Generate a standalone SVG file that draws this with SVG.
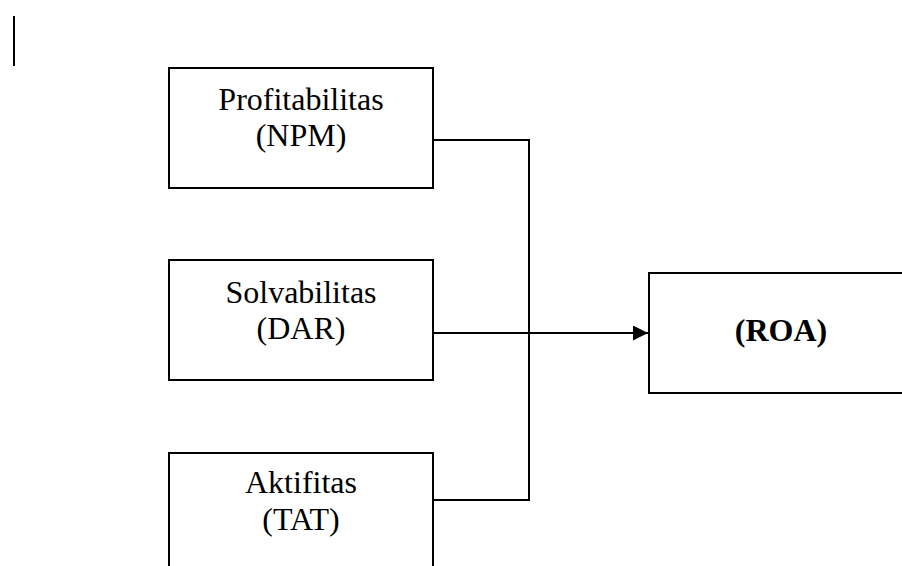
<svg xmlns="http://www.w3.org/2000/svg" width="902" height="566" viewBox="0 0 902 566">
  <defs>
    <style>
      .box { fill: #ffffff; stroke: #000000; stroke-width: 2; }
      .lbl { font-family: "Liberation Serif", "Times New Roman", serif; font-size: 32px; fill: #000000; text-anchor: middle; }
      .bold { font-weight: bold; }
      .conn { fill: none; stroke: #000000; stroke-width: 2; }
    </style>
    <marker id="arrow" viewBox="0 0 15 15" refX="15" refY="7.5" markerWidth="15" markerHeight="15" markerUnits="userSpaceOnUse" orient="auto">
      <path d="M0,0 L15,7.5 L0,15 Z" fill="#000000"/>
    </marker>
  </defs>
  <rect width="902" height="566" fill="#ffffff"/>
  <line x1="14" y1="16" x2="14" y2="66" stroke="#000000" stroke-width="2"/>
  <g id="connectors">
    <polyline class="conn" points="433,140 529,140 529,500 433,500"/>
    <line class="conn" x1="433" y1="333" x2="648" y2="333" marker-end="url(#arrow)"/>
  </g>
  <g id="node-npm">
    <rect class="box" x="169" y="68" width="264" height="120"/>
    <text class="lbl" x="301" y="110">Profitabilitas</text>
    <text class="lbl" x="301" y="146">(NPM)</text>
  </g>
  <g id="node-dar">
    <rect class="box" x="169" y="260" width="264" height="120"/>
    <text class="lbl" x="301" y="303">Solvabilitas</text>
    <text class="lbl" x="301" y="339">(DAR)</text>
  </g>
  <g id="node-tat">
    <rect class="box" x="169" y="453" width="264" height="130"/>
    <text class="lbl" x="301" y="493">Aktifitas</text>
    <text class="lbl" x="301" y="530">(TAT)</text>
  </g>
  <g id="node-roa">
    <rect class="box" x="649" y="273" width="270" height="120"/>
    <text class="lbl bold" x="781" y="341">(ROA)</text>
  </g>
</svg>
